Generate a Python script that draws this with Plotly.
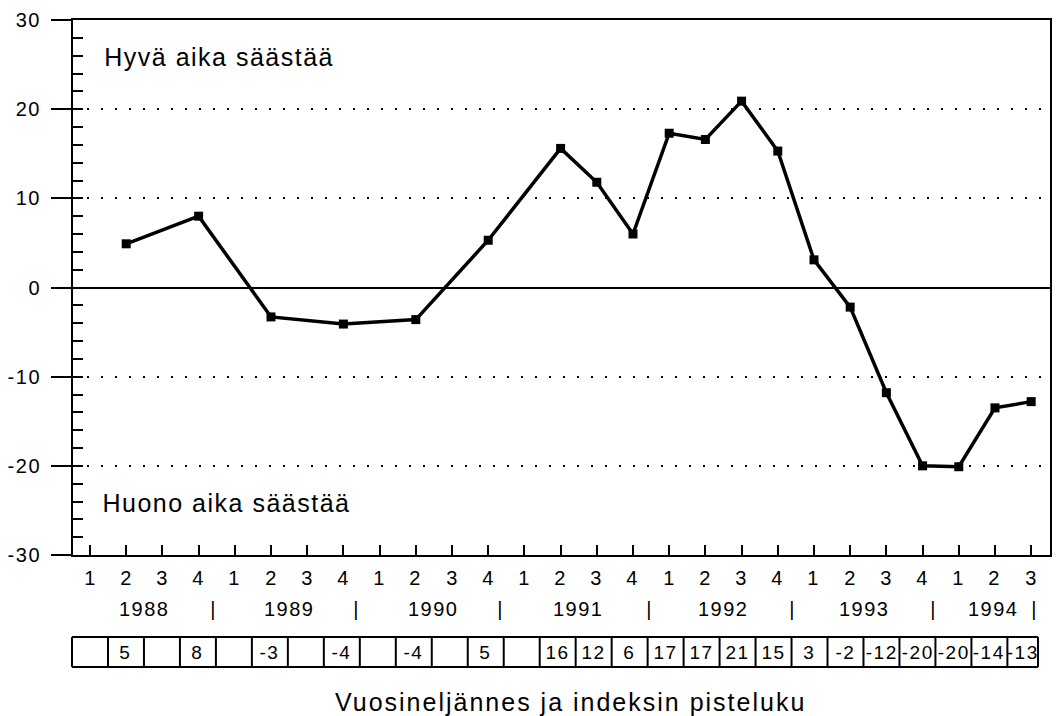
import plotly.graph_objects as go

# ---- data ----
quarters = ["1", "2", "3", "4"] * 6 + ["1", "2", "3"]          # 1988Q1 .. 1994Q3
years = ["1988", "1989", "1990", "1991", "1992", "1993", "1994"]
table_values = ["", "5", "", "8", "", "-3", "", "-4", "", "-4", "", "5",
                "", "16", "12", "6", "17", "17", "21", "15", "3", "-2",
                "-12", "-20", "-20", "-14", "-13"]
index_values = [None, 4.9, None, 8.0, None, -3.3, None, -4.1, None, -3.6, None, 5.3,
                None, 15.6, 11.8, 6.0, 17.3, 16.6, 20.9, 15.3, 3.1, -2.2,
                -11.8, -20.0, -20.1, -13.5, -12.8]
y_ticks = [-30, -20, -10, 0, 10, 20, 30]
label_good = "Hyvä aika säästää"
label_bad = "Huono aika säästää"
x_title = "Vuosineljännes ja indeksin pisteluku"

FONT = "Liberation Sans, Arial, Helvetica, sans-serif"
W, H = 1057, 716
L, R, T, B = 73, 5, 20, 161
plot_h = H - T - B
plot_w = W - L - R


def py(p):
    """pixel y -> paper y"""
    return (H - B - p) / plot_h


def px(p):
    """pixel x -> paper x"""
    return (p - L) / plot_w


n = len(quarters)
xs = [i for i, v in enumerate(index_values) if v is not None]
ys = [v for v in index_values if v is not None]

fig = go.Figure()
fig.add_trace(go.Scatter(
    x=xs, y=ys, mode="lines+markers",
    line=dict(color="black", width=3.5),
    marker=dict(symbol="square", size=9, color="black"),
    hoverinfo="skip", showlegend=False,
))
# invisible trace to activate the minor-tick overlay axis
fig.add_trace(go.Scatter(x=[None], y=[None], yaxis="y2", showlegend=False, hoverinfo="skip"))


def ann(x, y, text, size, xref="x", yref="paper", xanchor="center"):
    return dict(x=x, y=y, xref=xref, yref=yref, text=text, showarrow=False,
                xanchor=xanchor, yanchor="middle",
                font=dict(size=size, color="black", family=FONT))


annotations = []
# quarter labels
for i, q in enumerate(quarters):
    annotations.append(ann(i, py(578), q, 20))
# year labels
year_x = [1.5, 5.5, 9.5, 13.5, 17.5, 21.4, 24.95]
for yx, yr in zip(year_x, years):
    annotations.append(ann(yx, py(609), yr, 20))
sep_x = [-0.6, 3.4, 7.37, 11.35, 15.45, 19.4, 23.3, 26.1]
for sx in sep_x:
    annotations.append(ann(sx, py(609), "|", 20))

# table of index values (cell edges in pixels)
TABLE_LEFT, CELL, TABLE_RIGHT = 72.0, 36.05, 1040.0
edges = [TABLE_LEFT + CELL * i for i in range(n)] + [TABLE_RIGHT]
for i, tv in enumerate(table_values):
    if tv:
        cx = (edges[i] + edges[i + 1]) / 2
        annotations.append(ann(px(cx), py(652), tv, 19, xref="paper"))

# region labels
annotations.append(ann(px(219), 25.9, label_good, 25, xref="paper", yref="y"))
annotations.append(ann(px(227), -24.2, label_bad, 25, xref="paper", yref="y"))
# x title
annotations.append(ann(px(572), py(702), x_title, 25, xref="paper"))

shapes = []
top, bot = py(637), py(667)
line_style = dict(color="black", width=2)
shapes.append(dict(type="line", xref="paper", yref="paper", x0=px(edges[0]), x1=px(edges[-1]),
                   y0=top, y1=top, line=line_style))
shapes.append(dict(type="line", xref="paper", yref="paper", x0=px(edges[0]), x1=px(edges[-1]),
                   y0=bot, y1=bot, line=line_style))
for e in edges:
    shapes.append(dict(type="line", xref="paper", yref="paper", x0=px(e), x1=px(e),
                       y0=top, y1=bot, line=line_style))

fig.update_layout(
    width=W, height=H, autosize=False,
    margin=dict(l=L, r=R, t=T, b=B),
    paper_bgcolor="white", plot_bgcolor="white",
    font=dict(family=FONT, color="black", size=20),
    showlegend=False,
    xaxis=dict(range=[-0.47, 26.52], tickvals=list(range(n)), showticklabels=False,
               ticks="inside", ticklen=10, tickwidth=2, tickcolor="black",
               showline=True, linewidth=2, linecolor="black", mirror=True,
               showgrid=False, zeroline=False, fixedrange=True),
    yaxis=dict(range=[-30, 30], tickvals=y_ticks, ticktext=[str(v) for v in y_ticks],
               ticks="outside", ticklen=20, tickwidth=2, tickcolor="black",
               ticklabelstandoff=6,
               tickfont=dict(size=20, color="black", family=FONT),
               showline=True, linewidth=2, linecolor="black", mirror=True,
               showgrid=True, gridcolor="black", gridwidth=2, griddash="2px,12px",
               zeroline=True, zerolinecolor="black", zerolinewidth=2, fixedrange=True),
    yaxis2=dict(range=[-30, 30], overlaying="y", side="left", anchor="x",
                tick0=0, dtick=2, ticks="inside", ticklen=10, tickwidth=2, tickcolor="black",
                showticklabels=False, showgrid=False, zeroline=False, showline=False,
                fixedrange=True),
    annotations=annotations,
    shapes=shapes,
)

post = """
document.body.style.margin = '0';
var gd = document.getElementById('{plot_id}');
function ls() {
  gd.querySelectorAll('text').forEach(function (t) { t.style.letterSpacing = '1.5px'; });
  gd.querySelectorAll('g.annotation').forEach(function (g) {
    var t = g.querySelector('text');
    if (t && t.textContent.indexOf('Vuosinelj') === 0) { t.style.letterSpacing = '2px'; }
  });
}
ls();
gd.on('plotly_afterplot', ls);
"""

fig.write_html("out.html", config={"displayModeBar": False}, post_script=post)
